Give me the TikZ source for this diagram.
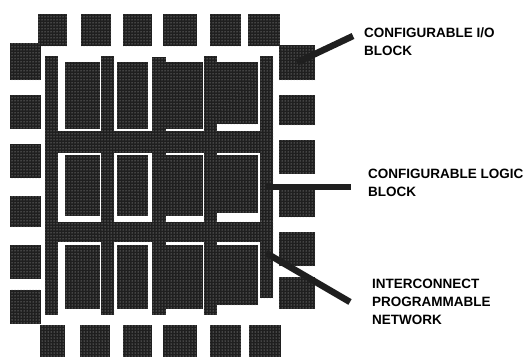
\documentclass[tikz,border=0pt]{standalone}
\usepackage{fontspec}
\setmainfont{Liberation Sans}
\usetikzlibrary{patterns}
\tikzset{
  blk/.style={rectangle,inner sep=0pt,fill=black!88,
    postaction={pattern=dots,pattern color=white!75!black}},
  leader/.style={line width=6.5pt,draw=black!88},
  lab/.style={inner sep=0pt,anchor=north west,align=left,
    font=\fontsize{13.5}{18}\selectfont\bfseries}
}
\begin{document}
\begin{tikzpicture}[x=1pt,y=-1pt]
  \useasboundingbox (0,0) rectangle (525,359);
  % pads along the edges
  \foreach \x/\w [count=\i] in {52.5/29,96/30,137.5/29,180/34,225.5/31,264/32}
    \node[blk,minimum width=\w pt,minimum height=32pt] (top\i) at (\x,30) {};
  \foreach \x/\w [count=\i] in {52.5/25,95/30,137.5/29,180/34,225.5/31,265/32}
    \node[blk,minimum width=\w pt,minimum height=32pt] (bot\i) at (\x,341) {};
  \foreach \y/\h [count=\i] in {61.5/37,112/34,161/34,211.5/31,262/34,306.5/34}
    \node[blk,minimum width=31pt,minimum height=\h pt] (left\i) at (25.5,\y) {};
  \foreach \y/\h [count=\i] in {62.5/35,110/30,157/34,201.5/31,249/34,293/32}
    \node[blk,minimum width=36pt,minimum height=\h pt] (right\i) at (297,\y) {};
  % logic blocks
  \foreach \x/\w [count=\c] in {82.5/35,132.5/31,177.5/51}
    \foreach \y/\h [count=\r] in {95.5/67,185.5/61,277/64}
      \node[blk,minimum width=\w pt,minimum height=\h pt] (clb\c\r) at (\x,\y) {};
  \foreach \y/\h [count=\r] in {93/62,184/58,275/60}
    \node[blk,minimum width=41pt,minimum height=\h pt] (clb4\r) at (237.5,\y) {};
  % routing channels
  \foreach \x/\ytop/\ybot [count=\i] in {51.5/56/315,107.5/56/315,159/57/315,210.5/56/315,266.5/56/298}
    \node[blk,minimum width=13.5pt,minimum height={\ybot-\ytop}] (vbar\i) at (\x,{(\ytop+\ybot)/2}) {};
  \node[blk,minimum width=228pt,minimum height=22pt] (hbar1) at (159,142) {};
  \node[blk,minimum width=228pt,minimum height=20pt] (hbar2) at (159,231.5) {};
  % labels and their leaders
  \node[lab] (iolab) at (364,27.5) {CONFIGURABLE I/O\\BLOCK};
  \node[lab] (cllab) at (368,169) {CONFIGURABLE LOGIC\\BLOCK};
  \node[lab] (iplab) at (372,279) {INTERCONNECT\\PROGRAMMABLE\\NETWORK};
  \coordinate (ioend) at (353,36);
  \coordinate (clfrom) at (266,187);
  \coordinate (clend) at (351,187);
  \coordinate (ipfrom) at (266,253);
  \coordinate (ipend) at (350,302);
  \draw[leader] (right1.center) -- (ioend);
  \draw[leader] (clfrom) -- (clend);
  \draw[leader] (ipfrom) -- (ipend);
\end{tikzpicture}
\end{document}
